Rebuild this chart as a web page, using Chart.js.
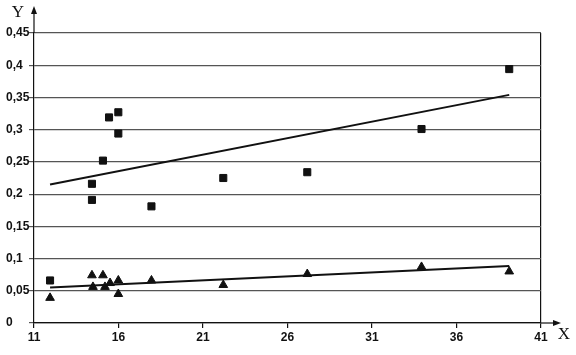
<!DOCTYPE html>
<html>
<head>
<meta charset="utf-8">
<script src="https://cdn.jsdelivr.net/npm/chart.js@4/dist/chart.umd.min.js"></script>
<style>
    html, body { margin: 0; padding: 0; background: #ffffff; }
    #chart_box { width: 576px; height: 355px; position: relative; }
</style>
</head>
<body>
<div id="chart_box"><canvas id="chart_xy"></canvas></div>
<script>
const square_x = [11.95, 14.43, 14.43, 15.08, 15.44, 15.99, 15.99, 17.95, 22.2, 27.17, 33.93, 39.12];
const square_y = [0.066, 0.216, 0.191, 0.252, 0.319, 0.327, 0.294, 0.181, 0.225, 0.234, 0.301, 0.394];

const triangle_x = [11.95, 14.43, 14.49, 15.08, 15.2, 15.5, 15.99, 15.99, 17.95, 22.2, 27.17, 33.93, 39.12];
const triangle_y = [0.039, 0.074, 0.056, 0.074, 0.056, 0.062, 0.066, 0.045, 0.066, 0.059, 0.076, 0.087, 0.080];

const trend_x = [11.95, 39.12];
const square_trend_y = [0.215, 0.354];
const triangle_trend_y = [0.055, 0.0885];

const x_ticks = [11, 16, 21, 26, 31, 36, 41];
const y_ticks = [0, 0.05, 0.1, 0.15, 0.2, 0.25, 0.3, 0.35, 0.4, 0.45];

const tick_font = { family: 'Liberation Sans', size: 12, weight: 'bold' };

function to_points(xs, ys) {
    return xs.map(function (x, idx) {
        return { x: x, y: ys[idx] };
    });
}

function comma_label(value) {
    const rounded = Math.round(value * 100) / 100;
    return String(rounded).replace('.', ',');
}

// axis arrows and the X / Y letters
const axis_arrows = {
    id: 'axis_arrows',
    afterDraw(chart) {
        const ctx = chart.ctx;
        const area = chart.chartArea;
        ctx.save();
        ctx.strokeStyle = '#111';
        ctx.fillStyle = '#111';
        ctx.lineWidth = 1.2;

        ctx.beginPath();
        ctx.moveTo(area.left, area.top);
        ctx.lineTo(area.left, 9);
        ctx.stroke();
        ctx.beginPath();
        ctx.moveTo(area.left, 6);
        ctx.lineTo(area.left - 3, 14);
        ctx.lineTo(area.left + 3, 14);
        ctx.closePath();
        ctx.fill();

        ctx.beginPath();
        ctx.moveTo(area.right, area.bottom);
        ctx.lineTo(558, area.bottom);
        ctx.stroke();
        ctx.beginPath();
        ctx.moveTo(561, area.bottom);
        ctx.lineTo(553, area.bottom - 3);
        ctx.lineTo(553, area.bottom + 3);
        ctx.closePath();
        ctx.fill();

        ctx.font = '17px "Liberation Serif"';
        ctx.textAlign = 'center';
        ctx.textBaseline = 'middle';
        ctx.fillText('Y', 18, 13);
        ctx.fillText('X', 564, 335);
        ctx.restore();
    },
};

new Chart(document.getElementById('chart_xy').getContext('2d'), {
    type: 'scatter',
    data: {
        datasets: [
            {
                label: 'Squares',
                data: to_points(square_x, square_y),
                pointStyle: 'rect',
                pointRadius: 5,
                backgroundColor: '#111',
                borderColor: '#111',
                borderWidth: 1,
            },
            {
                label: 'Triangles',
                data: to_points(triangle_x, triangle_y),
                pointStyle: 'triangle',
                pointRadius: 5,
                backgroundColor: '#111',
                borderColor: '#111',
                borderWidth: 1,
            },
            {
                label: 'Squares trend',
                data: to_points(trend_x, square_trend_y),
                showLine: true,
                pointRadius: 0,
                borderColor: '#111',
                borderWidth: 2,
            },
            {
                label: 'Triangles trend',
                data: to_points(trend_x, triangle_trend_y),
                showLine: true,
                pointRadius: 0,
                borderColor: '#111',
                borderWidth: 2,
            },
        ],
    },
    options: {
        responsive: true,
        maintainAspectRatio: false,
        animation: false,
        layout: { padding: { left: 6, top: 33, right: 35, bottom: 0 } },
        plugins: {
            legend: { display: false },
            tooltip: { enabled: false },
        },
        scales: {
            x: {
                type: 'linear',
                min: 11,
                max: 41,
                afterBuildTicks(scale) {
                    scale.ticks = x_ticks.map(function (v) { return { value: v }; });
                },
                afterFit(scale) {
                    scale.height = 32;
                },
                ticks: {
                    color: '#111',
                    font: tick_font,
                    padding: 2,
                    maxRotation: 0,
                },
                grid: {
                    drawOnChartArea: true,
                    color: function (c) {
                        return c.tick && c.tick.value === 41 ? '#111' : 'rgba(0,0,0,0)';
                    },
                    tickColor: '#111',
                    tickLength: 5,
                    lineWidth: 1.2,
                },
                border: { color: '#111', width: 1.2 },
            },
            y: {
                type: 'linear',
                min: 0,
                max: 0.45,
                afterBuildTicks(scale) {
                    scale.ticks = y_ticks.map(function (v) { return { value: v }; });
                },
                afterFit(scale) {
                    scale.width = 28;
                },
                ticks: {
                    color: '#111',
                    font: tick_font,
                    crossAlign: 'far',
                    padding: 2,
                    callback: function (value) {
                        return comma_label(value);
                    },
                },
                grid: {
                    color: '#555',
                    tickColor: '#555',
                    tickLength: 5,
                    lineWidth: 1.2,
                },
                border: { color: '#111', width: 1.2 },
            },
        },
    },
    plugins: [axis_arrows],
});
</script>
</body>
</html>
